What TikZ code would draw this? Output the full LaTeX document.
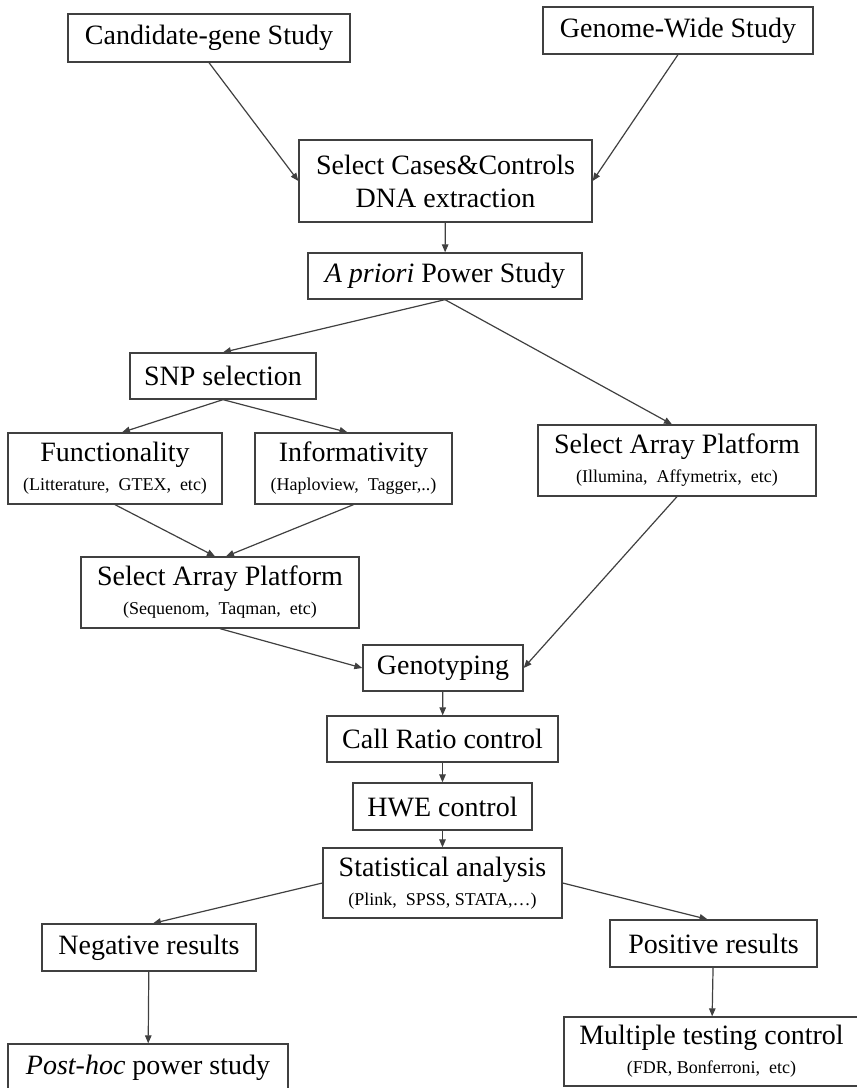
\documentclass[tikz,border=0pt]{standalone}
\usepackage{fontspec}
\setmainfont{Liberation Serif}
\usetikzlibrary{arrows.meta}
\newcommand{\subline}{\fontsize{18}{20}\selectfont}

\begin{document}
\begin{tikzpicture}[x=1pt, y=-1pt,
    box/.style={draw=black!75, line width=1.3pt, fill=white, inner sep=1pt,
        align=center, font=\fontsize{28}{33}\selectfont},
    flow/.style={draw=black!75, line width=1.2pt, -{Triangle[length=8pt,width=6.5pt]}}]
    \useasboundingbox (0,0) rectangle (857,1088);
    \clip (0,0) rectangle (857,1088);
    % Nodes
    \node[box, minimum width=282pt, minimum height=48pt] (cand) at (209,38) {Candidate-gene Study};
    \node[box, minimum width=270pt, minimum height=47pt] (gwas) at (678,30.5) {Genome-Wide Study};
    \node[box, minimum width=293pt, minimum height=82pt] (cases) at (445.5,181) {Select Cases\&Controls\\DNA extraction};
    \node[box, minimum width=274pt, minimum height=46pt] (prior) at (445,276) {\textit{A priori} Power Study};
    \node[box, minimum width=186pt, minimum height=46pt] (snp) at (223,376) {SNP selection};
    \node[box, minimum width=214pt, minimum height=71pt] (func) at (115,468.5) {Functionality\\[-4pt]{\subline (Litterature,~ GTEX,~ etc)}};
    \node[box, minimum width=197pt, minimum height=71pt] (info) at (353.5,468.5) {Informativity\\[-4pt]{\subline (Haploview,~ Tagger,..)}};
    \node[box, minimum width=278pt, minimum height=71pt] (arrR) at (677,460.5) {Select Array Platform\\[-4pt]{\subline (Illumina,~ Affymetrix,~ etc)}};
    \node[box, minimum width=278pt, minimum height=71pt] (arrL) at (220,592.5) {Select Array Platform\\[-4pt]{\subline (Sequenom,~ Taqman,~ etc)}};
    \node[box, minimum width=160pt, minimum height=46pt] (geno) at (443,668) {Genotyping};
    \node[box, minimum width=231pt, minimum height=46pt] (call) at (442.5,739) {Call Ratio control};
    \node[box, minimum width=179pt, minimum height=47pt] (hwe) at (442.5,806.5) {HWE control};
    \node[box, minimum width=239pt, minimum height=70pt] (stat) at (442.5,883) {Statistical analysis\\[-4pt]{\subline (Plink,~ SPSS, STATA,…)}};
    \node[box, minimum width=214pt, minimum height=47pt] (neg) at (149,947.5) {Negative results};
    \node[box, minimum width=207pt, minimum height=47pt] (pos) at (713.5,943.5) {Positive results};
    \node[box, minimum width=280pt, minimum height=48pt] (post) at (148,1068) {\textit{Post-hoc} power study};
    \node[box, minimum width=295pt, minimum height=69pt] (mult) at (711.5,1051.5) {Multiple testing control\\[-4pt]{\subline (FDR, Bonferroni,~ etc)}};
    % Edges
    \draw[flow] (cand.south) -- (cases.west);
    \draw[flow] (gwas.south) -- (cases.east);
    \draw[flow] (cases) -- (prior);
    \draw[flow] (prior.south) -- (snp.north);
    \draw[flow] (prior.south) -- ([xshift=-5pt]arrR.north);
    \draw[flow] (snp.south) -- ([xshift=7pt]func.north);
    \draw[flow] (snp.south) -- ([xshift=-6pt]info.north);
    \draw[flow] (func.south) -- ([xshift=-5pt]arrL.north);
    \draw[flow] (info.south) -- ([xshift=6pt]arrL.north);
    \draw[flow] (arrL.south) -- (geno.west);
    \draw[flow] (arrR.south) -- (geno.east);
    \draw[flow] (geno) -- (call);
    \draw[flow] (call) -- (hwe);
    \draw[flow] (hwe) -- (stat);
    \draw[flow] (stat.west) -- ([xshift=4pt]neg.north);
    \draw[flow] (stat.east) -- ([xshift=-6pt]pos.north);
    \draw[flow] (neg) -- (post);
    \draw[flow] (pos) -- (mult);
\end{tikzpicture}
\end{document}
